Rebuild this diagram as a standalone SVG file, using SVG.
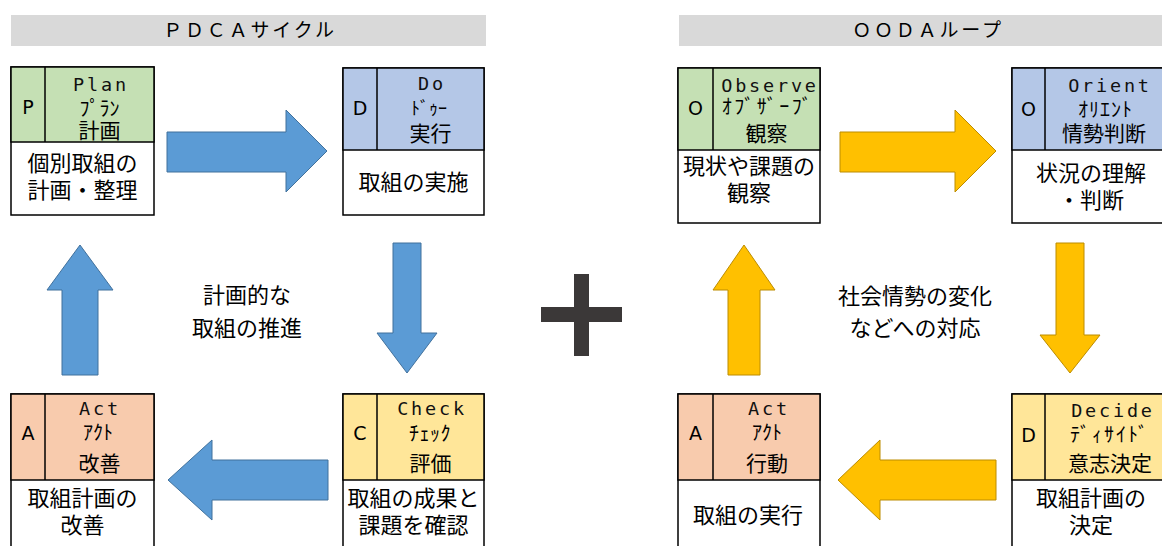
<svg xmlns="http://www.w3.org/2000/svg" width="1162" height="546" viewBox="0 0 1162 546">
<style>
.t{font-family:"Noto Sans CJK JP","Noto Sans CJK SC",sans-serif;fill:#000;text-anchor:middle}
.lat{font-family:"DejaVu Sans Mono",monospace;font-size:18.5px;letter-spacing:2.8px;text-anchor:middle;fill:#111}
.let{font-family:"DejaVu Sans","Liberation Sans",sans-serif;font-size:19px;text-anchor:middle;fill:#000}
.kana{font-size:20px}
.kan{font-size:21px}
.body{font-size:22px}
.ttl{font-size:19px;letter-spacing:2.8px}
.box{fill:#fff;stroke:#000;stroke-width:1.5}
.hdr{stroke:#000;stroke-width:1.5}
.div{stroke:#000;stroke-width:1.5}
.bar{fill:#D9D9D9}
.ab{fill:#5B9BD5;stroke:#41719C;stroke-width:1}
.ay{fill:#FFC000;stroke:#BC8C00;stroke-width:1}
.plus{fill:#3B3838}
</style>

<g id="title-pdca">
<rect class="bar" x="11" y="15" width="475" height="31"/>
<text class="t ttl" x="250" y="37">ＰＤＣＡサイクル</text>
</g>
<g id="title-ooda">
<rect class="bar" x="679" y="15" width="483" height="31"/>
<text class="t ttl" x="928" y="37">ＯＯＤＡループ</text>
</g>

<g id="node-plan">
<rect class="box" x="11" y="67" width="143" height="148"/>
<rect class="hdr" x="11" y="67" width="143" height="75" fill="#C5E0B4"/>
<line class="div" x1="45" y1="67" x2="45" y2="142"/>
<text class="let" x="28" y="114">P</text>
<text class="lat" x="101" y="91">Plan</text>
<text class="t kana" x="99.5" y="116">ﾌﾟﾗﾝ</text>
<text class="t kan" x="99.5" y="138">計画</text>
<text class="t body" x="82.5" y="171">個別取組の</text>
<text class="t body" x="82.5" y="198">計画・整理</text>
</g>

<g id="node-do">
<rect class="box" x="343" y="68" width="141" height="147"/>
<rect class="hdr" x="343" y="68" width="141" height="82" fill="#B4C7E7"/>
<line class="div" x1="377" y1="68" x2="377" y2="150"/>
<text class="let" x="360" y="115">D</text>
<text class="lat" x="432" y="90">Do</text>
<text class="t kana" x="429" y="115" style="font-size:18px">ﾄﾞｩｰ</text>
<text class="t kan" x="430.5" y="141">実行</text>
<text class="t body" x="413.5" y="190">取組の実施</text>
</g>

<g id="node-check">
<rect class="box" x="343" y="394" width="141" height="170"/>
<rect class="hdr" x="343" y="394" width="141" height="86" fill="#FFE699"/>
<line class="div" x1="377" y1="394" x2="377" y2="480"/>
<text class="let" x="360" y="440">C</text>
<text class="lat" x="432" y="415">Check</text>
<text class="t kana" x="430" y="441" style="letter-spacing:0.5px">ﾁｪｯｸ</text>
<text class="t kan" x="430.5" y="471">評価</text>
<text class="t body" x="413.5" y="506">取組の成果と</text>
<text class="t body" x="413.5" y="533">課題を確認</text>
</g>

<g id="node-act">
<rect class="box" x="11" y="394" width="143" height="170"/>
<rect class="hdr" x="11" y="394" width="143" height="86" fill="#F8CBAD"/>
<line class="div" x1="45" y1="394" x2="45" y2="480"/>
<text class="let" x="28" y="440">A</text>
<text class="lat" x="100" y="415">Act</text>
<text class="t kana" x="98" y="440">ｱｸﾄ</text>
<text class="t kan" x="99.5" y="471">改善</text>
<text class="t body" x="82.5" y="506">取組計画の</text>
<text class="t body" x="82.5" y="533">改善</text>
</g>

<g id="node-observe">
<rect class="box" x="678" y="68" width="142" height="155"/>
<rect class="hdr" x="678" y="68" width="142" height="82" fill="#C5E0B4"/>
<line class="div" x1="713" y1="68" x2="713" y2="150"/>
<text class="let" x="695.5" y="115">O</text>
<text class="lat" x="770" y="92">Observe</text>
<text class="t kana" x="768" y="114" style="letter-spacing:2.5px">ｵﾌﾞｻﾞｰﾌﾞ</text>
<text class="t kan" x="766.5" y="141">観察</text>
<text class="t body" x="749" y="174">現状や課題の</text>
<text class="t body" x="749" y="201">観察</text>
</g>

<g id="node-orient">
<rect class="box" x="1012" y="68" width="160" height="155"/>
<rect class="hdr" x="1012" y="68" width="160" height="82" fill="#B4C7E7"/>
<line class="div" x1="1045" y1="68" x2="1045" y2="150"/>
<text class="let" x="1028.5" y="116">O</text>
<text class="lat" x="1110" y="92">Orient</text>
<text class="t kana" x="1105.5" y="117" style="letter-spacing:1px">ｵﾘｴﾝﾄ</text>
<text class="t kan" x="1104" y="141">情勢判断</text>
<text class="t body" x="1091" y="181">状況の理解</text>
<text class="t body" x="1091" y="208">・判断</text>
</g>

<g id="node-decide">
<rect class="box" x="1012" y="394" width="160" height="170"/>
<rect class="hdr" x="1012" y="394" width="160" height="86" fill="#FFE699"/>
<line class="div" x1="1045" y1="394" x2="1045" y2="480"/>
<text class="let" x="1028.5" y="442">D</text>
<text class="lat" x="1113" y="417">Decide</text>
<text class="t kana" x="1110" y="442" style="letter-spacing:2px">ﾃﾞｨｻｲﾄﾞ</text>
<text class="t kan" x="1110" y="471">意志決定</text>
<text class="t body" x="1091" y="506">取組計画の</text>
<text class="t body" x="1091" y="533">決定</text>
</g>

<g id="node-action">
<rect class="box" x="678" y="394" width="142" height="170"/>
<rect class="hdr" x="678" y="394" width="142" height="86" fill="#F8CBAD"/>
<line class="div" x1="713" y1="394" x2="713" y2="480"/>
<text class="let" x="695.5" y="440">A</text>
<text class="lat" x="769" y="415">Act</text>
<text class="t kana" x="767" y="440">ｱｸﾄ</text>
<text class="t kan" x="767" y="471">行動</text>
<text class="t body" x="748" y="523">取組の実行</text>
</g>

<g id="connectors">
<polygon class="ab" points="167,132 286,132 286,110 327,151 286,192 286,172 167,172"/>
<polygon class="ab" points="393,243 421,243 421,333 437,333 407,373 377,333 393,333"/>
<polygon class="ab" points="328,460 212,460 212,440 168,480 212,520 212,500 328,500"/>
<polygon class="ab" points="62,375 62,290 47,290 80,245 113,290 98,290 98,375"/>
<polygon class="ay" points="840,132 955,132 955,110 996,151 955,192 955,172 840,172"/>
<polygon class="ay" points="1056,243 1084,243 1084,335 1100,335 1070,373 1040,335 1056,335"/>
<polygon class="ay" points="996,460 880,460 880,440 838,480 880,520 880,500 996,500"/>
<polygon class="ay" points="728,375 728,290 713,290 744,245 775,290 760,290 760,375"/>
</g>

<g id="plus">
<rect class="plus" x="574" y="274" width="15" height="82"/>
<rect class="plus" x="541" y="307" width="81" height="15"/>
</g>

<g id="label-pdca">
<text class="t body" x="247" y="303">計画的な</text>
<text class="t body" x="247" y="336">取組の推進</text>
</g>
<g id="label-ooda">
<text class="t body" x="915" y="304">社会情勢の変化</text>
<text class="t body" x="915" y="336">などへの対応</text>
</g>
</svg>
